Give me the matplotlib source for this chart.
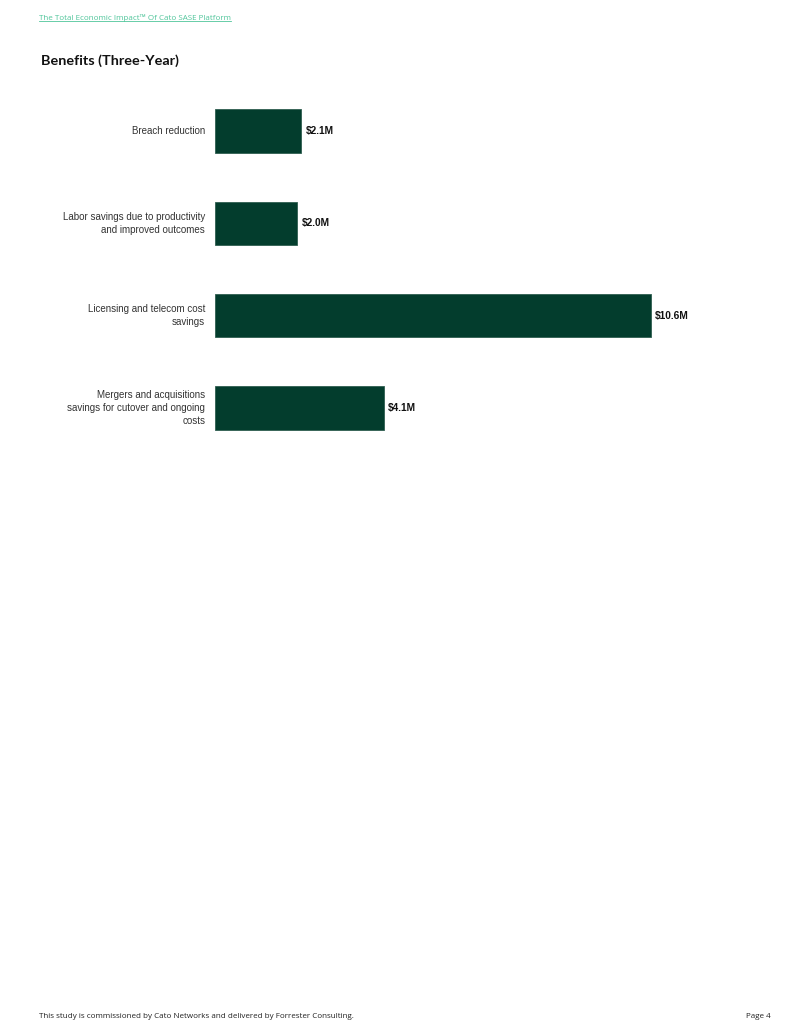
import matplotlib.pyplot as plt
from matplotlib.lines import Line2D

# data
categories = [
    "Breach reduction",
    "Labor savings due to productivity\nand improved outcomes",
    "Licensing and telecom cost\nsavings",
    "Mergers and acquisitions\nsavings for cutover and ongoing\ncosts",
]
values = [2.1, 2.0, 10.6, 4.1]
value_labels = ["$2.1M", "$2.0M", "$10.6M", "$4.1M"]

W, H = 800, 1035
fig = plt.figure(figsize=(W / 100, H / 100), dpi=100)
fig.patch.set_facecolor("white")

# axes placed in pixel coords of the page
left, right = 215, 760
top, bottom = 84.8, 454.2
ax = fig.add_axes([left / W, 1 - bottom / H, (right - left) / W, (bottom - top) / H])

bar_color = "#033D2D"
ypos = list(range(len(categories)))
ax.barh(ypos, values, height=0.47, color=bar_color, edgecolor="#2f5e50", linewidth=0.6)
ax.set_xlim(0, 13.25)
ax.set_ylim(3.5, -0.5)
ax.axis("off")

for y, v, lab in zip(ypos, values, value_labels):
    ax.text(v + 0.1, y, lab.replace("$", r"\$"), va="center", ha="left",
            fontsize=7.3, fontweight="bold", family="Liberation Sans", color="#111111")

for y, c in zip(ypos, categories):
    ax.text(-0.24, y, c, va="center", ha="right", fontsize=7,
            family="Liberation Sans", color="#333333", linespacing=1.35)

# header link
hdr = fig.text(39 / W, 1 - 18 / H, "The Total Economic Impact\u2122 Of Cato SASE Platform",
               fontsize=5.75, family="Open Sans", color="#4fc59a", va="center", ha="left")
fig.canvas.draw()
bb = hdr.get_window_extent()
uy = (bb.y0 + 1) / H
fig.add_artist(Line2D([bb.x0 / W, bb.x1 / W], [uy, uy], color="#4fc59a", lw=0.6,
                      transform=fig.transFigure))

# title
fig.text(41 / W, 1 - 61 / H, "Benefits (Three-Year)", fontsize=10.4, fontweight="bold",
         family="Lato", color="#111111", va="center", ha="left")

# footer
fig.text(39 / W, 1 - 1017 / H,
         "This study is commissioned by Cato Networks and delivered by Forrester Consulting.",
         fontsize=5.8, family="Open Sans", color="#222222", va="center", ha="left")
fig.text(771 / W, 1 - 1017 / H, "Page 4", fontsize=5.8, family="Open Sans",
         color="#222222", va="center", ha="right")

fig.savefig("out.png", dpi=100, facecolor="white")
